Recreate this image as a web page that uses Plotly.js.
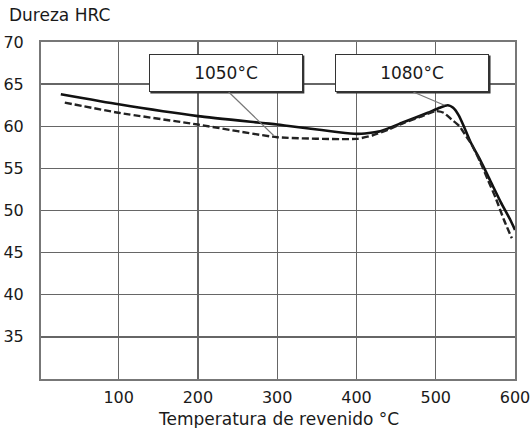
<!DOCTYPE html>
<html>
<head>
<meta charset="utf-8">
<script src="https://cdn.plot.ly/plotly-3.0.1.min.js"></script>
<style>html,body{margin:0;padding:0;background:#fff;}#chart{width:531px;height:428px;}</style>
</head>
<body>
<div id="chart"></div>
<script>
// Temperatura de revenido (°C) and Dureza HRC
const tempSolid = [27, 100, 200, 300, 400, 430, 460, 490, 505, 515, 522, 529, 535, 544, 556, 569, 582, 594, 600];
const hrcSolid  = [63.8, 62.6, 61.2, 60.2, 59.1, 59.4, 60.5, 61.6, 62.2, 62.5, 62.2, 61.3, 60.1, 58.1, 56.0, 53.5, 51.0, 48.9, 47.7];

const tempDashed = [32, 100, 200, 300, 400, 420, 440, 460, 480, 500, 510, 520, 530, 537, 545, 556, 566, 576, 586, 596];
const hrcDashed  = [62.8, 61.6, 60.2, 58.7, 58.5, 58.9, 59.6, 60.4, 61.1, 61.8, 61.6, 60.8, 60.0, 59.0, 57.9, 55.8, 53.6, 51.4, 48.9, 46.7];

const xTickVals = [100, 200, 300, 400, 500, 600];
const yTickVals = [35, 40, 45, 50, 55, 60, 65, 70];

const labelTexts = ['1050°C', '1080°C'];
const labelTemps = [235.2, 470.1];
const labelHrc = 66.32;

const yTitle = 'Dureza HRC';
const xTitle = 'Temperatura de revenido °C';

const font = 'DejaVu Sans, sans-serif';
const ink = '#1a1a1a';

const traces = [
  {x: tempSolid, y: hrcSolid, mode: 'lines', type: 'scatter',
   line: {color: '#111', width: 2.6, shape: 'spline', smoothing: 0.5}, hoverinfo: 'skip'},
  {x: tempDashed, y: hrcDashed, mode: 'lines', type: 'scatter',
   line: {color: '#222', width: 2.4, dash: '7px,3px', shape: 'spline', smoothing: 0.5}, hoverinfo: 'skip'}
];

const shapes = [];
labelTemps.forEach(function (t) {
  shapes.push({type: 'rect', xref: 'x', yref: 'y', xsizemode: 'pixel', ysizemode: 'pixel',
    xanchor: t, yanchor: labelHrc, x0: -75.5, x1: 78.5, y0: -20.5, y1: 17.5,
    fillcolor: '#333', line: {width: 0}, layer: 'above'});
});
// leader lines
shapes.push({type: 'line', xref: 'x', yref: 'y', x0: 238.8, y0: 64.07, x1: 295.5, y1: 58.9,
  line: {color: '#777', width: 1.2}, layer: 'above'});
shapes.push({type: 'line', xref: 'x', yref: 'y', x0: 471.7, y0: 64.07, x1: 511, y1: 62.5,
  line: {color: '#777', width: 1.2}, layer: 'above'});

const annotations = labelTexts.map(function (txt, i) {
  return {x: labelTemps[i], y: labelHrc, xref: 'x', yref: 'y', text: txt, showarrow: false,
    font: {family: font, size: 17, color: ink}, bgcolor: '#fff', bordercolor: '#333',
    borderwidth: 1, borderpad: 1, width: 150, height: 34, xanchor: 'center', yanchor: 'middle'};
});
annotations.push({x: -0.0715, y: 1.08, xref: 'paper', yref: 'paper', text: yTitle, showarrow: false,
  xanchor: 'left', yanchor: 'middle', font: {family: font, size: 17, color: ink}});
annotations.push({x: 0.5, y: -0.118, xref: 'paper', yref: 'paper', text: xTitle, showarrow: false,
  xanchor: 'center', yanchor: 'middle', font: {family: font, size: 17, color: ink}});

const layout = {
  width: 531, height: 428,
  margin: {l: 40.6, r: 16.3, t: 42, b: 48.6},
  paper_bgcolor: '#fff', plot_bgcolor: '#fff',
  showlegend: false,
  xaxis: {range: [2, 600], tickvals: xTickVals, ticktext: xTickVals.map(String),
    showgrid: true, gridcolor: '#666', gridwidth: 1.4, zeroline: false,
    showline: true, mirror: true, linecolor: '#777', linewidth: 2,
    ticks: '', ticklabelstandoff: 3,
    tickfont: {family: font, size: 16, color: ink}},
  yaxis: {range: [30, 70], tickvals: yTickVals, ticktext: yTickVals.map(String),
    showgrid: true, gridcolor: '#666', gridwidth: 1.4, zeroline: false,
    showline: true, mirror: true, linecolor: '#777', linewidth: 2,
    ticks: '', ticklabelstandoff: 12,
    tickfont: {family: font, size: 16, color: ink}},
  shapes: shapes,
  annotations: annotations
};

Plotly.newPlot('chart', traces, layout, {staticPlot: true, displayModeBar: false});
</script>
</body>
</html>
